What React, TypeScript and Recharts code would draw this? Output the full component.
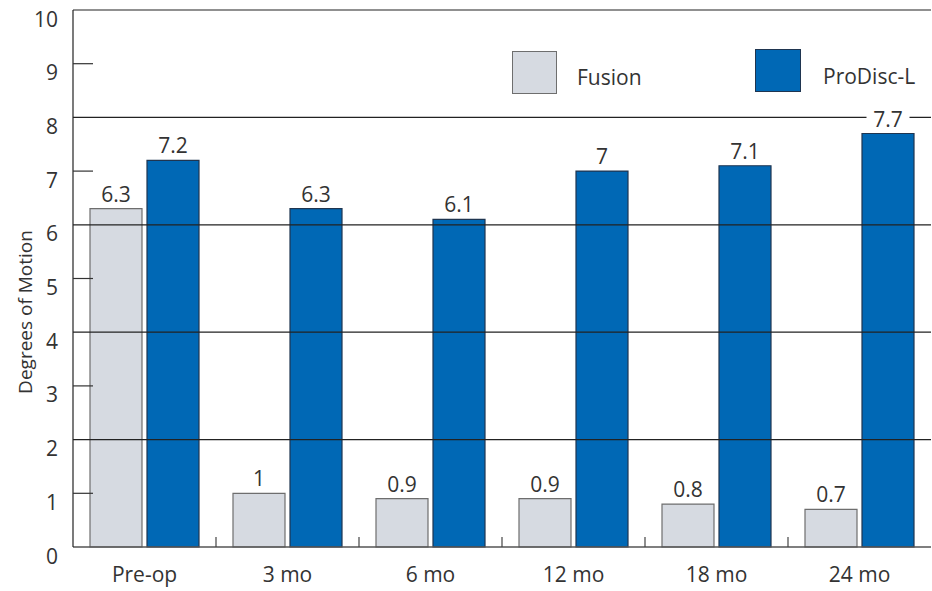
import React from 'react';
import { BarChart, Bar, XAxis, YAxis, ReferenceLine, LabelList } from 'recharts';

const CATEGORIES = ['Pre-op', '3 mo', '6 mo', '12 mo', '18 mo', '24 mo'];
const FUSION = [6.3, 1, 0.9, 0.9, 0.8, 0.7];
const PRODISC = [7.2, 6.3, 6.1, 7, 7.1, 7.7];
const Y_TICKS = [0, 1, 2, 3, 4, 5, 6, 7, 8, 9, 10];
const GRID_LINES = [2, 4, 6, 8, 10];

const data = CATEGORIES.map((name, i) => ({ name, fusion: FUSION[i], prodisc: PRODISC[i] }));

const FONT = '"Open Sans", "Noto Sans", sans-serif';
const TEXT = '#333333';
const FUSION_FILL = '#d6dae1';
const FUSION_STROKE = '#6e6e6e';
const PRODISC_FILL = '#0068b5';
const PRODISC_STROKE = '#1f3550';

const YTick = (props: any) => {
  const { x, y, payload } = props;
  const axisX = x + 15;
  return (
    <g>
      <text x={x} y={y + 9} dy="0.36em" textAnchor="end" fontSize={21} fill={TEXT} fontFamily={FONT}>
        {payload.value}
      </text>
      {payload.value % 2 === 1 && (
        <line x1={axisX} x2={axisX + 20} y1={y} y2={y} stroke="#333" strokeWidth={1.2} />
      )}
    </g>
  );
};

const XTick = (props: any) => {
  const { x, y, payload, index } = props;
  const half = 71.5;
  return (
    <g>
      <text x={x} y={y + 27} textAnchor="middle" fontSize={21} fill={TEXT} fontFamily={FONT}>
        {payload.value}
      </text>
      {index < CATEGORIES.length - 1 && (
        <line x1={x + half} x2={x + half} y1={y - 8} y2={y - 18} stroke="#444" strokeWidth={1.2} />
      )}
    </g>
  );
};

const ValueLabel = (props: any) => {
  const { x, y, width, value } = props;
  const cx = x + width / 2;
  const w = String(value).length * 11 + 10;
  return (
    <g>
      <rect x={cx - w / 2} y={y - 25} width={w} height={20} fill="#fff" />
      <text x={cx} y={y - 7} textAnchor="middle" fontSize={21} fill={TEXT} fontFamily={FONT}>
        {value}
      </text>
    </g>
  );
};

const LegendOverlay = () => (
  <div style={{ position: 'absolute', left: 512, top: 49, width: 420, height: 50, fontFamily: FONT, color: TEXT, fontSize: 21 }}>
    <div style={{ position: 'absolute', left: 0, top: 2, width: 45, height: 43, background: FUSION_FILL, border: `1px solid ${FUSION_STROKE}`, boxSizing: 'border-box' }} />
    <div style={{ position: 'absolute', left: 65, top: 16, lineHeight: '24px' }}>Fusion</div>
    <div style={{ position: 'absolute', left: 243, top: 0, width: 46, height: 43, background: PRODISC_FILL, border: `1px solid ${PRODISC_STROKE}`, boxSizing: 'border-box' }} />
    <div style={{ position: 'absolute', left: 311, top: 15, lineHeight: '24px' }}>ProDisc-L</div>
  </div>
);

export default function App() {
  return (
    <div style={{ position: 'absolute', left: 0, top: 0, width: 932, height: 591, background: '#fff' }}>
      <BarChart
        width={932}
        height={591}
        data={data}
        margin={{ top: 10, right: 1, left: 0, bottom: 14 }}
        barCategoryGap={17}
        barGap={5}
      >
        {GRID_LINES.map((v) => (
          <ReferenceLine key={v} y={v} stroke="#222" strokeWidth={1.2} />
        ))}
        <XAxis
          dataKey="name"
          height={30}
          tick={<XTick />}
          tickLine={false}
          axisLine={{ stroke: '#555', strokeWidth: 1.5 }}
          interval={0}
        />
        <YAxis
          domain={[0, 10]}
          ticks={Y_TICKS}
          width={73}
          tickSize={6}
          tickMargin={9}
          tickLine={false}
          tick={<YTick />}
          axisLine={{ stroke: '#222', strokeWidth: 1.2 }}
          interval={0}
          label={{
            content: () => (
              <text
                x={25}
                y={312}
                transform="rotate(-90 25 312)"
                textAnchor="middle"
                dominantBaseline="central"
                fontSize={19}
                fill={TEXT}
                fontFamily={FONT}
              >
                Degrees of Motion
              </text>
            ),
          }}
        />
        <Bar dataKey="fusion" name="Fusion" fill={FUSION_FILL} stroke={FUSION_STROKE} strokeWidth={1.2} isAnimationActive={false}>
          <LabelList dataKey="fusion" content={<ValueLabel />} />
        </Bar>
        <Bar dataKey="prodisc" name="ProDisc-L" fill={PRODISC_FILL} stroke={PRODISC_STROKE} strokeWidth={1.2} isAnimationActive={false}>
          <LabelList dataKey="prodisc" content={<ValueLabel />} />
        </Bar>
      </BarChart>
      <LegendOverlay />
    </div>
  );
}
